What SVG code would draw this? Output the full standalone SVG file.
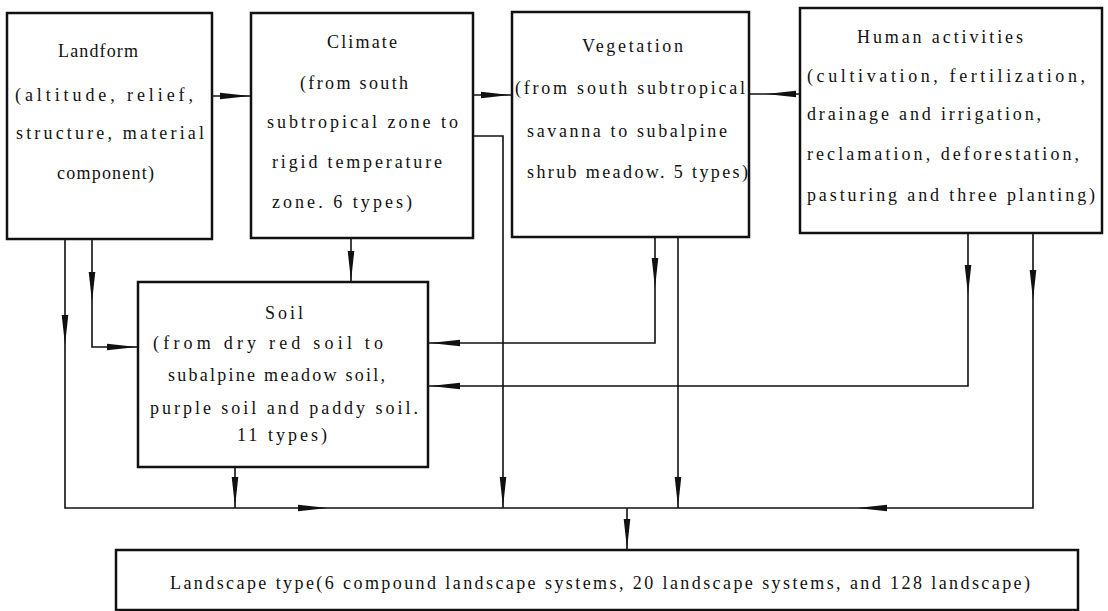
<svg xmlns="http://www.w3.org/2000/svg" width="1108" height="611" viewBox="0 0 1108 611">
<defs>
<style>
.box{fill:#fff;stroke:#111;stroke-width:2.5}
.t{font-family:"Liberation Serif","Times New Roman",serif;font-size:18px;fill:#111}
.c{fill:none;stroke:#111;stroke-width:1.6}
.ah{fill:#111}
</style>
<path id="ah" d="M0,0 L-30,-3.3 L-30,3.3 Z"/>
</defs>
<rect width="1108" height="611" fill="#fff"/>

<g id="connectors">
<path class="c" d="M212,96 H251"/>
<path class="c" d="M473,95 H512"/>
<path class="c" d="M800,94 H749"/>
<path class="c" d="M473,136 H503 V508"/>
<path class="c" d="M65,239 V508 H1033 V233"/>
<path class="c" d="M92,239 V347 H138"/>
<path class="c" d="M351,238 V282"/>
<path class="c" d="M655,237 V343 H428"/>
<path class="c" d="M678,237 V508"/>
<path class="c" d="M968,233 V386 H428"/>
<path class="c" d="M235,467 V508"/>
<path class="c" d="M627,508 V550"/>
<use href="#ah" class="ah" transform="translate(250,96)"/>
<use href="#ah" class="ah" transform="translate(511,95)"/>
<use href="#ah" class="ah" transform="translate(766,94) rotate(180)"/>
<use href="#ah" class="ah" transform="translate(503,507) rotate(90)"/>
<use href="#ah" class="ah" transform="translate(65,345) rotate(90)"/>
<use href="#ah" class="ah" transform="translate(92,302) rotate(90)"/>
<use href="#ah" class="ah" transform="translate(137,347)"/>
<use href="#ah" class="ah" transform="translate(351,281) rotate(90)"/>
<use href="#ah" class="ah" transform="translate(655,288) rotate(90)"/>
<use href="#ah" class="ah" transform="translate(430,343) rotate(180)"/>
<use href="#ah" class="ah" transform="translate(678,507) rotate(90)"/>
<use href="#ah" class="ah" transform="translate(968,295) rotate(90)"/>
<use href="#ah" class="ah" transform="translate(430,386) rotate(180)"/>
<use href="#ah" class="ah" transform="translate(1033,300) rotate(90)"/>
<use href="#ah" class="ah" transform="translate(857,508) rotate(180)"/>
<use href="#ah" class="ah" transform="translate(235,507) rotate(90)"/>
<use href="#ah" class="ah" transform="translate(328,508)"/>
<use href="#ah" class="ah" transform="translate(627,549) rotate(90)"/>
</g>

<g id="landform">
<rect class="box" x="7" y="13" width="205" height="226"/>
<text class="t" x="58" y="57" textLength="80" lengthAdjust="spacing">Landform</text>
<text class="t" x="15" y="101" textLength="178" lengthAdjust="spacing">(altitude, relief,</text>
<text class="t" x="16" y="139" textLength="188" lengthAdjust="spacing">structure, material</text>
<text class="t" x="57" y="179" textLength="97" lengthAdjust="spacing">component)</text>
</g>

<g id="climate">
<rect class="box" x="251" y="13" width="222" height="225"/>
<text class="t" x="327" y="48" textLength="70" lengthAdjust="spacing">Climate</text>
<text class="t" x="300" y="89" textLength="108" lengthAdjust="spacing">(from south</text>
<text class="t" x="267" y="128" textLength="191" lengthAdjust="spacing">subtropical zone to</text>
<text class="t" x="272" y="168" textLength="170" lengthAdjust="spacing">rigid temperature</text>
<text class="t" x="272" y="208" textLength="140" lengthAdjust="spacing">zone. 6 types)</text>
</g>

<g id="vegetation">
<rect class="box" x="512" y="12" width="237" height="225"/>
<text class="t" x="582" y="52" textLength="101" lengthAdjust="spacing">Vegetation</text>
<text class="t" x="515" y="94" textLength="230" lengthAdjust="spacing">(from south subtropical</text>
<text class="t" x="527" y="137" textLength="200" lengthAdjust="spacing">savanna to subalpine</text>
<text class="t" x="527" y="178" textLength="221" lengthAdjust="spacing">shrub meadow. 5 types)</text>
</g>

<g id="human">
<rect class="box" x="800" y="8" width="302" height="225"/>
<text class="t" x="857" y="43" textLength="166" lengthAdjust="spacing">Human activities</text>
<text class="t" x="807" y="82" textLength="278" lengthAdjust="spacing">(cultivation, fertilization,</text>
<text class="t" x="807" y="120" textLength="234" lengthAdjust="spacing">drainage and irrigation,</text>
<text class="t" x="807" y="160" textLength="272" lengthAdjust="spacing">reclamation, deforestation,</text>
<text class="t" x="807" y="201" textLength="288" lengthAdjust="spacing">pasturing and three planting)</text>
</g>

<g id="soil">
<rect class="box" x="138" y="282" width="290" height="185"/>
<text class="t" x="265" y="319" textLength="38" lengthAdjust="spacing">Soil</text>
<text class="t" x="153" y="349" textLength="230" lengthAdjust="spacing">(from dry red soil to</text>
<text class="t" x="168" y="381" textLength="217" lengthAdjust="spacing">subalpine meadow soil,</text>
<text class="t" x="150" y="414" textLength="268" lengthAdjust="spacing">purple soil and paddy soil.</text>
<text class="t" x="237" y="441" textLength="90" lengthAdjust="spacing">11 types)</text>
</g>

<g id="landscape">
<rect class="box" x="116" y="550" width="962" height="60"/>
<text class="t" x="170" y="589" textLength="860" lengthAdjust="spacing">Landscape type(6 compound landscape systems, 20 landscape systems, and 128 landscape)</text>
</g>
</svg>
